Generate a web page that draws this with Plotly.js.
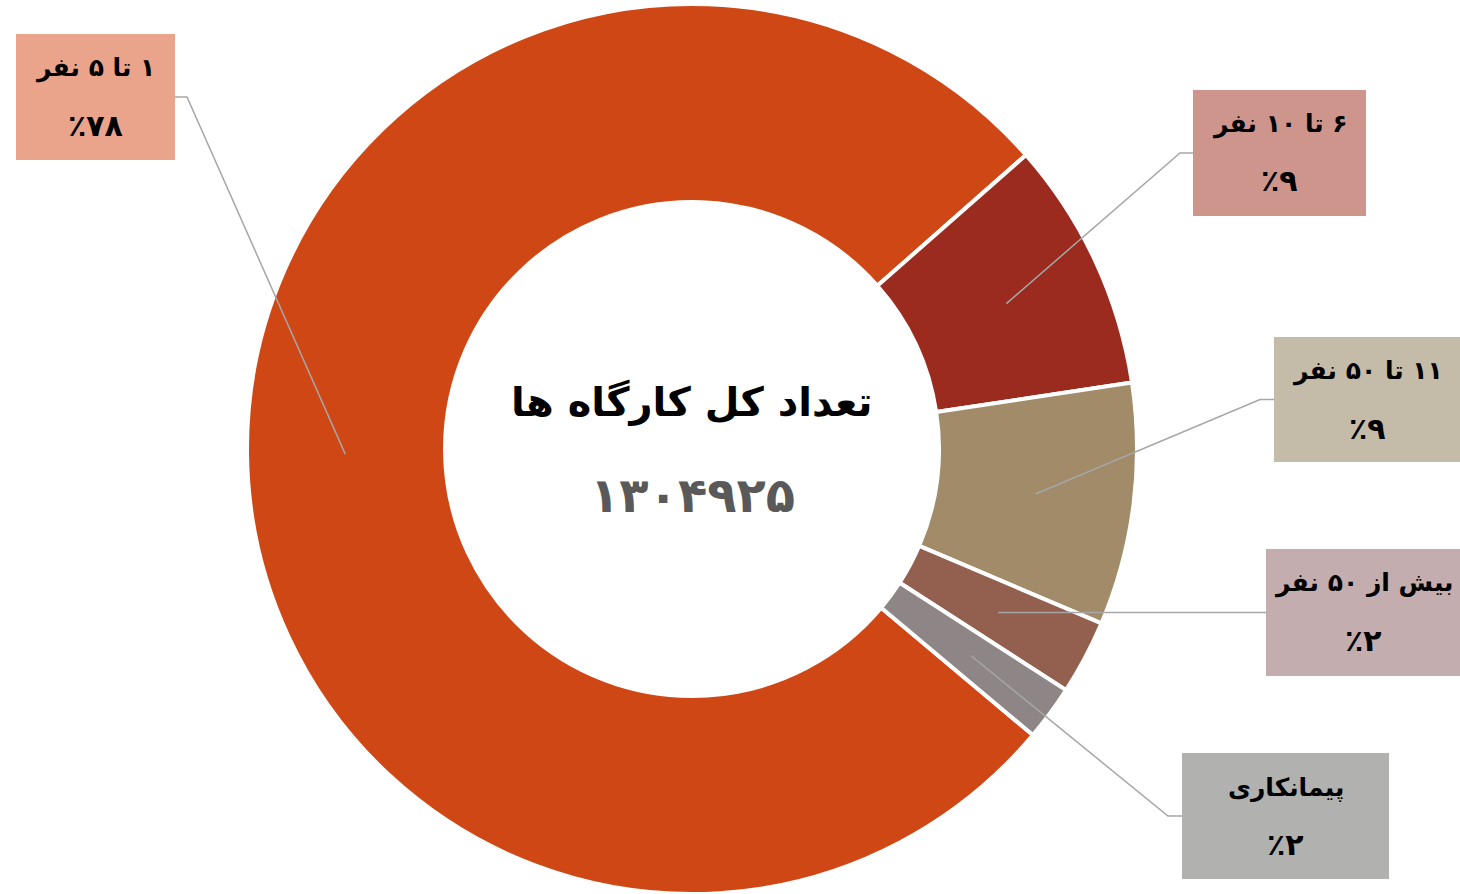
<!DOCTYPE html>
<html>
<head>
<meta charset="utf-8">
<script src="https://cdn.plot.ly/plotly-3.0.1.min.js"></script>
<style>
html,body{margin:0;padding:0;background:#fff;}
#chart{width:1460px;height:894px;}
</style>
</head>
<body>
<div id="chart"></div>
<script>
// ---- data ----
const categories = ["۱ تا ۵ نفر", "۶ تا ۱۰ نفر", "۱۱ تا ۵۰ نفر", "بیش از ۵۰ نفر", "پیمانکاری"];
const values = [77.4, 9.1, 8.8, 2.7, 2.0];
const pctLabels = ["٪۷۸", "٪۹", "٪۹", "٪۲", "٪۲"];
const centerTitle = "تعداد کل کارگاه ها";
const centerTotal = "۱۳۰۴۹۲۵";

// ---- styles / layout config ----
const W = 1460, H = 894;
const sliceColors = ["#D04716", "#9B2A1F", "#A18B69", "#93604F", "#8E8686"];
const boxColors = ["#E9A48B", "#CE958D", "#C4BBA8", "#C4ADAE", "#B1B1B0"];
const cx = 692, cy = 450, R = 446, hole = 0.555, rotation = 130;
// label boxes in pixels: [x0, y0, x1, y1]
const boxes = [[16, 34, 175, 160], [1193, 90, 1366, 216], [1274, 337, 1460, 462], [1266, 549, 1470, 676], [1182, 753, 1389, 879]];
const elbowLen = [12, -13, -14, 0, -14];
const FONT = "DejaVu Sans, Noto Sans, sans-serif";
const RLM = "\u200F";

const px = x => x / W;
const py = y => 1 - y / H;

// pie domain
const domX = [px(cx - R), px(cx + R)];
const domY = [Math.max(0, py(cy + R)), Math.min(1, py(cy - R))];

const total = values.reduce((a, b) => a + b, 0);
const shapes = [], annotations = [];
let ang = rotation;
values.forEach((v, i) => {
  const sweep = v / total * 360;
  const mid = (ang + sweep / 2) * Math.PI / 180;
  ang += sweep;
  const rm = R * (1 + hole) / 2;
  const ex = cx + rm * Math.sin(mid), ey = cy - rm * Math.cos(mid);
  const b = boxes[i];
  const by = (b[1] + b[3]) / 2;
  const bx = i === 0 ? b[2] : b[0];
  const kx = bx + elbowLen[i];
  shapes.push({type: "path", xref: "paper", yref: "paper",
    path: `M ${px(bx)} ${py(by)} L ${px(kx)} ${py(by)} L ${px(ex)} ${py(ey)}`,
    line: {color: "#A6A6A6", width: 1.5}, layer: "above"});
  shapes.push({type: "rect", xref: "paper", yref: "paper",
    x0: px(b[0]), x1: px(b[2]), y0: py(b[3]), y1: py(b[1]),
    fillcolor: boxColors[i], line: {width: 0}, layer: "above"});
  const tx = (b[0] + Math.min(b[2], W)) / 2;
  annotations.push({xref: "paper", yref: "paper", x: px(tx), y: py(b[1] + 34),
    text: RLM + categories[i] + RLM, showarrow: false, xanchor: "center", yanchor: "middle",
    font: {family: FONT, size: 25, color: "#000", weight: "bold"}});
  annotations.push({xref: "paper", yref: "paper", x: px(tx), y: py(b[1] + 91),
    text: pctLabels[i], showarrow: false, xanchor: "center", yanchor: "middle",
    font: {family: FONT, size: 30, color: "#000", weight: "bold"}});
});

annotations.push({xref: "paper", yref: "paper", x: px(cx), y: py(403), text: centerTitle,
  showarrow: false, xanchor: "center", yanchor: "middle",
  font: {family: FONT, size: 40, color: "#000", weight: "bold"}});
annotations.push({xref: "paper", yref: "paper", x: px(cx), y: py(495), text: centerTotal,
  showarrow: false, xanchor: "center", yanchor: "middle",
  font: {family: FONT, size: 48, color: "#595959", weight: "bold"}});

const trace = {
  type: "pie", labels: categories, values: values, hole: hole,
  sort: false, direction: "clockwise", rotation: rotation,
  textinfo: "none", hoverinfo: "label+percent",
  marker: {colors: sliceColors, line: {color: "#FFFFFF", width: 4}},
  domain: {x: domX, y: domY}, showlegend: false
};

Plotly.newPlot("chart", [trace], {
  width: W, height: H, margin: {l: 0, r: 0, t: 0, b: 0},
  paper_bgcolor: "#FFFFFF", showlegend: false,
  shapes: shapes, annotations: annotations
}, {displayModeBar: false, staticPlot: true});
</script>
</body>
</html>
